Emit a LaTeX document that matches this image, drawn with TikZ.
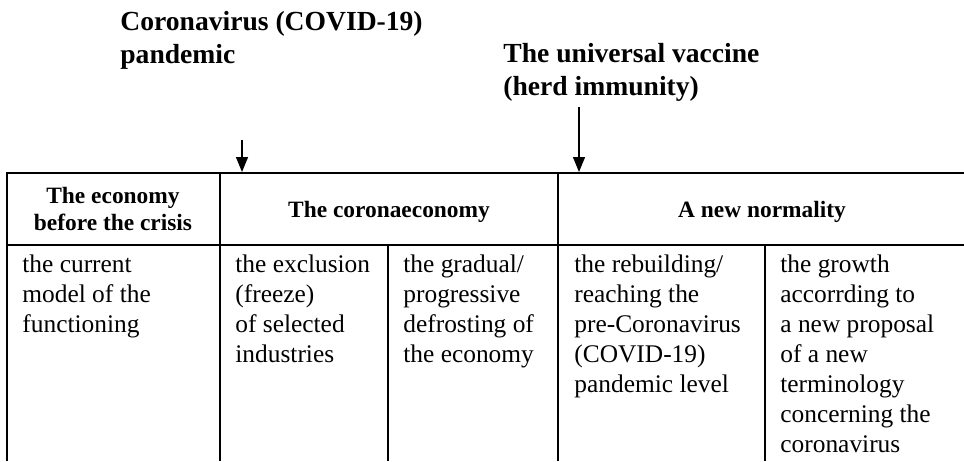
\documentclass[tikz,border=0pt]{standalone}
\usepackage{fontspec}
\setmainfont{Liberation Serif}
\usetikzlibrary{arrows.meta}
\tikzset{
  grid/.style={line width=1pt},
  pointer/.style={line width=0.65pt, -{Triangle[length=7.5pt,width=6pt]}},
  title/.style={anchor=base west, inner sep=0pt, align=left, font=\fontsize{13.8}{16.5}\selectfont\bfseries},
  head/.style={anchor=base, inner sep=0pt, align=center, font=\fontsize{11.7}{13.5}\selectfont\bfseries},
  cell/.style={anchor=base west, inner sep=0pt, align=left, font=\fontsize{12.7}{15}\selectfont}
}

\begin{document}
\begin{tikzpicture}[x=0.5pt, y=-0.5pt]

	\useasboundingbox (0,0) rectangle (964,461);

	% the table (cut off at the right and at the bottom)
	\draw[grid] (7,461) -- (7,173) -- (964,173);
	\draw[grid] (7,245) -- (964,245);
	\draw[grid] (220,173) -- (220,461);
	\draw[grid] (558,173) -- (558,461);
	\draw[grid] (388,245) -- (388,461);
	\draw[grid] (765,245) -- (765,461);

	% events above the table (base = last line)
	\node[title] (pandemic) at (120,63) {Coronavirus (COVID-19)\\pandemic};
	\node[title] (vaccine) at (503,95) {The universal vaccine\\(herd immunity)};

	\coordinate (pandemic from) at (242,140);
	\coordinate (pandemic to) at (242,172);
	\coordinate (vaccine from) at (579,107);
	\coordinate (vaccine to) at (579,172);
	\draw[pointer] (pandemic from) -- (pandemic to);
	\draw[pointer] (vaccine from) -- (vaccine to);

	% headings
	\node[head] (before) at (113,230) {The economy\\before the crisis};
	\node[head] (corona) at (389,217) {The coronaeconomy};
	\node[head] (normal) at (762,217) {A new normality};

	% cells
	\node[cell] (current) at (22,332) {the current\\model of the\\functioning};
	\node[cell] (freeze) at (235,362) {the exclusion\\(freeze)\\of selected\\industries};
	\node[cell] (defrost) at (403,362) {the gradual/\\progressive\\defrosting of\\the economy};
	\node[cell] (rebuild) at (574,392) {the rebuilding/\\reaching the\\pre-Coronavirus\\(COVID-19)\\pandemic level};
	\node[cell] (growth) at (780,452) {the growth\\accorrding to\\a new proposal\\of a new\\terminology\\concerning the\\coronavirus};

\end{tikzpicture}
\end{document}
